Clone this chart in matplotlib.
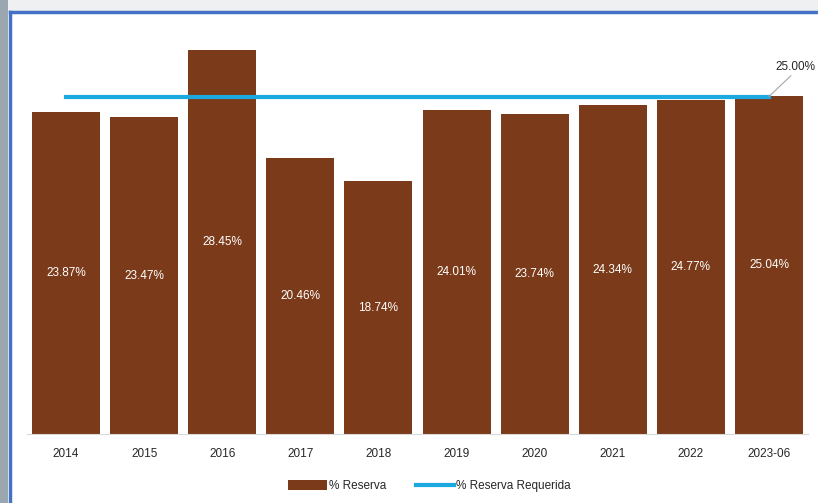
import numpy as np
import matplotlib.pyplot as plt
from matplotlib.patches import Rectangle
from matplotlib.lines import Line2D

plt.rcParams['font.family'] = ['Liberation Sans Narrow', 'Liberation Sans', 'DejaVu Sans']

years = ['2014', '2015', '2016', '2017', '2018', '2019', '2020', '2021', '2022', '2023-06']
reserva = [23.87, 23.47, 28.45, 20.46, 18.74, 24.01, 23.74, 24.34, 24.77, 25.04]
requerida = [25.00] * len(years)

bar_color = '#7B3A19'
line_color = '#1BA9E0'

W, H = 818, 503
fig = plt.figure(figsize=(W / 100, H / 100), dpi=100, facecolor='white')

# slide background around the chart frame
fig.patches.append(Rectangle((0, 1 - 11 / H), 1, 11 / H, transform=fig.transFigure,
                             facecolor='#eef0f1', edgecolor='none', zorder=0))
fig.patches.append(Rectangle((0, 0), 8 / W, 1, transform=fig.transFigure,
                             facecolor='#9aa7b0', edgecolor='none', zorder=0))
fig.lines.append(Line2D([9.5 / W, 9.5 / W], [0, 1 - 12 / H], transform=fig.transFigure,
                        color='#4472C4', lw=2.5))
fig.lines.append(Line2D([9.5 / W, 1], [1 - 12 / H, 1 - 12 / H], transform=fig.transFigure,
                        color='#4472C4', lw=2.5))

ax = fig.add_axes([27 / W, (H - 434) / H, (808 - 27) / W, (434 - 29) / H])
ax.set_facecolor('none')
x = np.arange(len(years))
bars = ax.bar(x, reserva, width=0.87, color=bar_color, label='% Reserva', zorder=2)
ax.plot(x, requerida, color=line_color, lw=3, label='% Reserva Requerida', zorder=3)

for xi, v in zip(x, reserva):
    ax.text(xi, v / 2, f'{v:.2f}%', ha='center', va='center', color='white', fontsize=8.5, zorder=4)

ax.annotate(f'{requerida[-1]:.2f}%', xy=(x[-1], requerida[-1]), xytext=(5, 17),
            textcoords='offset points', ha='left', va='bottom', fontsize=8.5, color='#262626',
            annotation_clip=False,
            arrowprops=dict(arrowstyle='-', color='#a6a6a6', lw=0.8, relpos=(0.45, 0),
                            shrinkA=0, shrinkB=0))

ax.set_xlim(-0.5, len(years) - 0.5)
ax.set_ylim(0, 30)
ax.set_xticks(x)
ax.set_xticklabels(years, fontsize=8.5, color='#262626')
ax.tick_params(axis='x', length=0, pad=10)
ax.set_yticks([])
for s in ['top', 'right', 'left']:
    ax.spines[s].set_visible(False)
ax.spines['bottom'].set_color('#d9d9d9')

handles, labels = ax.get_legend_handles_labels()
order = [labels.index('% Reserva'), labels.index('% Reserva Requerida')]
fig.legend([handles[i] for i in order], [labels[i] for i in order],
           loc='center', bbox_to_anchor=(0.525, (H - 486) / H), ncol=2, frameon=False,
           fontsize=8.5, handlelength=3.3, handleheight=1.0, columnspacing=2.5,
           handletextpad=0.15, labelcolor='#262626')

fig.savefig('out.png', dpi=100, facecolor='white')
